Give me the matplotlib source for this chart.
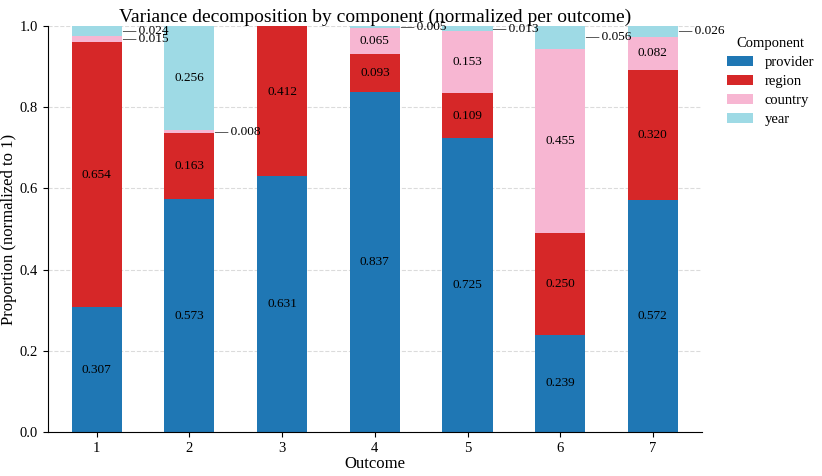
import matplotlib
matplotlib.use("Agg")
import matplotlib.pyplot as plt
import numpy as np

plt.rcParams['font.family'] = ['Liberation Serif', 'DejaVu Serif']

outcomes = [1, 2, 3, 4, 5, 6, 7]
components = ["provider", "region", "country", "year"]
provider = [0.307, 0.573, 0.631, 0.837, 0.725, 0.239, 0.572]
region = [0.654, 0.163, 0.412, 0.093, 0.109, 0.250, 0.320]
country = [0.015, 0.008, 0.0, 0.065, 0.153, 0.455, 0.082]
year = [0.024, 0.256, 0.0, 0.005, 0.013, 0.056, 0.026]
colors = ["#1f77b4", "#d62728", "#f7b6d2", "#9edae5"]

series = [provider, region, country, year]

fig = plt.figure(figsize=(8.22, 4.76), dpi=100)
ax = fig.add_axes([0.058, 0.0924, 0.796, 0.853])

x = np.array(outcomes, dtype=float)
width = 0.54
bottom = np.zeros(len(x))
for name, vals, c in zip(components, series, colors):
    vals = np.array(vals)
    ax.bar(x, vals, width, bottom=bottom, color=c, label=name, zorder=2)
    for xi, b, v in zip(x, bottom, vals):
        if v <= 0:
            continue
        yc = b + v / 2
        if v >= 0.06:
            ax.text(xi, yc, f"{v:.3f}", ha="center", va="center", fontsize=9.5, zorder=3)
        else:
            ax.text(xi + width / 2, yc, f"\u2014 {v:.3f}", ha="left", va="center",
                    fontsize=9.5, zorder=3)
    bottom = bottom + vals

ax.set_ylim(0, 1.0)
ax.set_xlim(0.47, 7.53)
ax.set_xticks(x)
ax.set_xticklabels([str(o) for o in outcomes], fontsize=10.5)
ax.set_yticks([0.0, 0.2, 0.4, 0.6, 0.8, 1.0])
ax.set_yticklabels([f"{t:.1f}" for t in [0.0, 0.2, 0.4, 0.6, 0.8, 1.0]], fontsize=10.5)
ax.yaxis.grid(True, linestyle="--", color="#cccccc", alpha=0.7, zorder=0)
ax.set_axisbelow(True)
ax.spines["top"].set_visible(False)
ax.spines["right"].set_visible(False)
ax.set_xlabel("Outcome", fontsize=12, labelpad=1)
ax.set_ylabel("Proportion (normalized to 1)", fontsize=12, labelpad=2)
ax.set_title("Variance decomposition by component (normalized per outcome)", fontsize=14, pad=3)
leg = ax.legend(title="Component", loc="upper left", bbox_to_anchor=(1.018, 1.005),
                frameon=False, fontsize=10.5, title_fontsize=10.5,
                handlelength=1.8, handleheight=0.7, handletextpad=0.8, labelspacing=0.4)

fig.savefig("out.png", dpi=100)
